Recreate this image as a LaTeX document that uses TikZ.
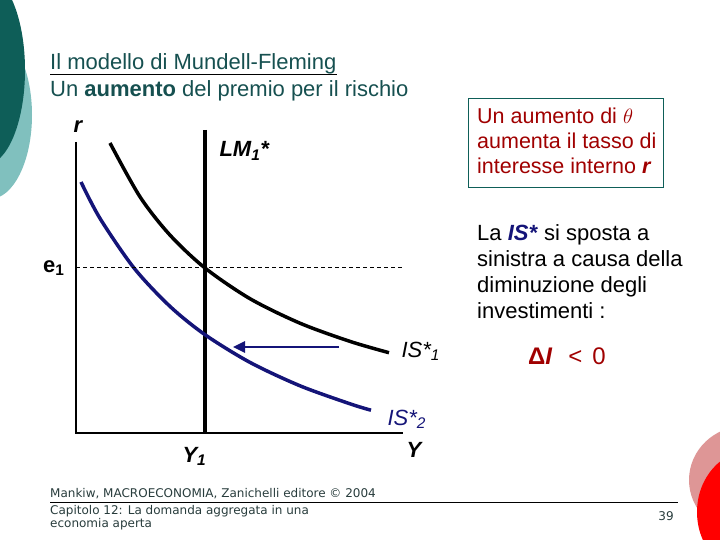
\documentclass[tikz,border=0pt]{standalone}
\usepackage{fontspec}
\setmainfont{Liberation Sans}
\newfontfamily\piedfont{DejaVu Sans}
\usetikzlibrary{arrows.meta}
\definecolor{mycol}{RGB}{14,94,88}
\definecolor{mycol2}{RGB}{128,192,190}
\definecolor{mycol3}{RGB}{222,150,150}
\definecolor{mycol4}{RGB}{255,0,0}
\definecolor{mycol5}{RGB}{20,20,120}
\definecolor{mycol6}{RGB}{160,0,0}
\definecolor{mycol7}{RGB}{22,80,80}
\definecolor{mycol8}{RGB}{40,60,60}
\tikzset{pied/.style={anchor=base west, inner sep=0, text=mycol8, font=\piedfont\fontsize{12}{14}\selectfont}}

\begin{document}
\fontsize{22}{25}\selectfont
\begin{tikzpicture}[x=1pt,y=-1pt]
			\useasboundingbox (0,0) rectangle (720,540);
			
			% Décor en haut à gauche
			\fill[mycol2] (-10,115) ellipse (42 and 84);
			\fill[mycol]  (-15,70) ellipse (40 and 95);
			
			% Décor en bas à droite
			\fill[mycol3] (745,480) ellipse (56 and 54);
			\fill[mycol4] (752,512) ellipse (55 and 62);
			
			% Titre
			\node[anchor=base west, inner sep=0, text=mycol7] (titre) at (50,70) {Il modello di Mundell-Fleming};
			\draw[line width=1pt] (titre.south west) -- (titre.south east);
			\node[anchor=base west, inner sep=0, text=mycol7] (soustitre) at (50,97) {Un \textbf{aumento} del premio per il rischio};
			
			% Axes
			\coordinate (rhaut) at (76,142);
			\coordinate (O) at (76,433);
			\coordinate (Yfin) at (403,433);
			\draw[line width=1.2pt] (rhaut) -- (O) -- (Yfin);
			
			% Noms des axes
			\node[anchor=base, font=\bfseries\itshape] (r) at (78,133) {r};
			\node[anchor=base east, font=\bfseries] (e1) at (72,272) {e\textsubscript{1}};
			\node[anchor=base west, font=\bfseries\itshape] (Y1) at (175,462) {Y\textsubscript{1}};
			\node[anchor=base west, font=\bfseries\itshape] (Y) at (399,457) {Y};
			
			% Droite LM*
			\coordinate (LMhaut) at (205,130);
			\coordinate (LMbas) at (205,433);
			\draw[line width=3.5pt] (LMhaut) -- (LMbas);
			\node[anchor=base west, font=\bfseries\itshape] (LM) at (212,157) {LM\textsubscript{1}*};
			
			% Courbe IS*1
			\draw[line width=3.5pt] plot[smooth] coordinates {(110,143) (140,196.8) (170,235.1) (205,268) (250,298.7) (300,323.2) (350,341.4) (389,352.7)};
			\node[anchor=base west, font=\itshape] (IS1) at (394,357) {IS*\textsubscript{1}};
			
			% Courbe IS*2 (après le déplacement)
			\draw[mycol5, line width=3.5pt] plot[smooth] coordinates {(81,182) (100,218.4) (134,268) (170,306.4) (205,334.7) (250,362.4) (300,385.8) (350,403.8) (371,410.2)};
			\node[anchor=base west, font=\itshape, text=mycol5] (IS2) at (380,425) {IS*\textsubscript{2}};
			
			% Pointillé de e1
			\coordinate (e1deb) at (76,267);
			\coordinate (e1fin) at (403,267);
			\draw[line width=0.8pt, dash pattern=on 4pt off 3pt] (e1deb) -- (e1fin);
			
			% Flèche du déplacement
			\coordinate (fldeb) at (339,347);
			\coordinate (flfin) at (233,347);
			\draw[mycol5, line width=2.5pt, -{Triangle[length=12pt,width=11pt]}] (fldeb) -- (flfin);
			
			% Encadré rouge
			\draw[mycol, line width=0.8pt] (468,98) rectangle (663,187);
			\node[anchor=north west, inner sep=0, align=left, text=mycol6, font=\fontsize{21.5}{25}\selectfont] (boxtheta) at (477,107.5) {Un aumento di $\theta$\\aumenta il tasso di\\interesse interno \textbf{\textit{r}}};
			
			% Texte de droite
			\node[anchor=north west, inner sep=0, align=left, font=\fontsize{22}{26}\selectfont] (texteIS) at (477,224) {La \textcolor{mycol5}{\textbf{\textit{IS*}}} si sposta a\\sinistra a causa della\\diminuzione degli\\investimenti :};
			\node[text=mycol6, font=\fontsize{24}{26}\selectfont] (deltaI) at (567,356) {\textbf{Δ\textit{I}}\hspace{16pt}<\hspace{10pt}0};
			
			% Pied de page
			\node[pied] (pied1) at (50,497) {Mankiw, MACROECONOMIA, Zanichelli editore © 2004};
			\coordinate (lignedeb) at (50,502);
			\coordinate (lignefin) at (678,502);
			\draw[line width=1pt] (lignedeb) -- (lignefin);
			\node[pied] (pied2) at (50,514) {Capitolo 12: La domanda aggregata in una};
			\node[pied] (pied3) at (50,527) {economia aperta};
			\node[pied, anchor=base] (page) at (666,520) {39};
			
		\end{tikzpicture}
\end{document}
